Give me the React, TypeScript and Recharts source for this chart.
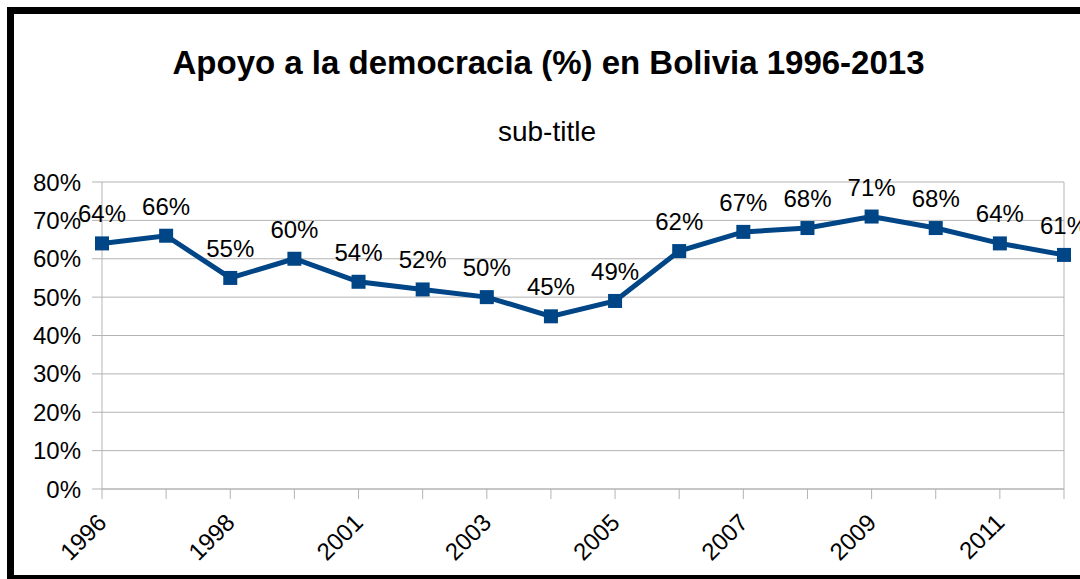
import React from 'react';
import { LineChart, Line, XAxis, YAxis, CartesianGrid, LabelList, ReferenceLine } from 'recharts';

const years = ['1996', '1997', '1998', '2000', '2001', '2002', '2003', '2004', '2005', '2006', '2007', '2008', '2009', '2010', '2011', '2013'];
const apoyo = [64, 66, 55, 60, 54, 52, 50, 45, 49, 62, 67, 68, 71, 68, 64, 61];
const yTicks = [0, 10, 20, 30, 40, 50, 60, 70, 80];

const chartData = years.map((year, i) => ({ year, apoyo: apoyo[i] }));

const BLUE = '#004586';
const GRID = '#b3b3b3';
const FONT = '"Liberation Sans", Arial, sans-serif';

const SquareDot = (props: any) => {
  const { cx, cy } = props;
  if (cx == null || cy == null) return null;
  return <rect x={cx - 7} y={cy - 7} width={14} height={14} fill={BLUE} />;
};

const YearTick = (props: any) => {
  const { x, y, payload, index } = props;
  const i = index ?? payload?.index ?? 0;
  // only every other year gets a label, like the original
  if (i % 2 !== 0) return null;
  const ex = x + 6;
  const ey = y + 25;
  return (
    <text x={ex} y={ey} textAnchor="end" transform={`rotate(-45, ${ex}, ${ey})`} fontSize={24} fill="#000" fontFamily={FONT}>
      {payload.value}
    </text>
  );
};

const ValueLabel = (props: any) => {
  const { x, y, value } = props;
  return (
    <text x={x} y={y - 21} textAnchor="middle" fontSize={24} fill="#000" fontFamily={FONT}>
      {value}%
    </text>
  );
};

export default function App() {
  return (
    <div
      style={{
        position: 'absolute',
        left: 7,
        top: 7,
        width: 1073,
        height: 572,
        boxSizing: 'border-box',
        borderLeft: '7px solid #000',
        borderTop: '7px solid #000',
        borderBottom: '4px solid #000',
        background: '#fff',
        overflow: 'hidden',
      }}
    >
      <div style={{ position: 'relative', width: 1069, height: 561 }}>
        <LineChart
          width={1069}
          height={561}
          data={chartData}
          margin={{ top: 168, right: 19, bottom: 0, left: 0 }}
          style={{ fontFamily: FONT }}
        >
          <CartesianGrid vertical={false} stroke={GRID} strokeWidth={1} />
          <XAxis
            dataKey="year"
            interval={0}
            height={86}
            tickSize={10}
            tickMargin={0}
            tickLine={{ stroke: GRID }}
            axisLine={{ stroke: GRID }}
            tick={<YearTick />}
          />
          <YAxis
            width={88}
            domain={[0, 80]}
            ticks={yTicks}
            tickSize={10}
            tickMargin={11}
            tickLine={{ stroke: GRID }}
            axisLine={{ stroke: GRID }}
            tick={{ fontSize: 24, fill: '#000', fontFamily: FONT }}
            tickFormatter={(v: number) => `${v}%`}
          />
          <ReferenceLine x={years[years.length - 1]} stroke={GRID} />
          <Line
            type="linear"
            dataKey="apoyo"
            stroke={BLUE}
            strokeWidth={5}
            dot={<SquareDot />}
            activeDot={false}
            isAnimationActive={false}
          >
            <LabelList dataKey="apoyo" content={<ValueLabel />} />
          </Line>
        </LineChart>
        <svg width={1069} height={561} style={{ position: 'absolute', left: 0, top: 0, pointerEvents: 'none' }}>
          <text x={534.5} y={60} textAnchor="middle" fontSize={33} fontWeight="bold" fill="#000" fontFamily={FONT}>
            Apoyo a la democracia (%) en Bolivia 1996-2013
          </text>
          <text x={533} y={127} textAnchor="middle" fontSize={28} fill="#000" fontFamily={FONT}>
            sub-title
          </text>
        </svg>
      </div>
    </div>
  );
}
